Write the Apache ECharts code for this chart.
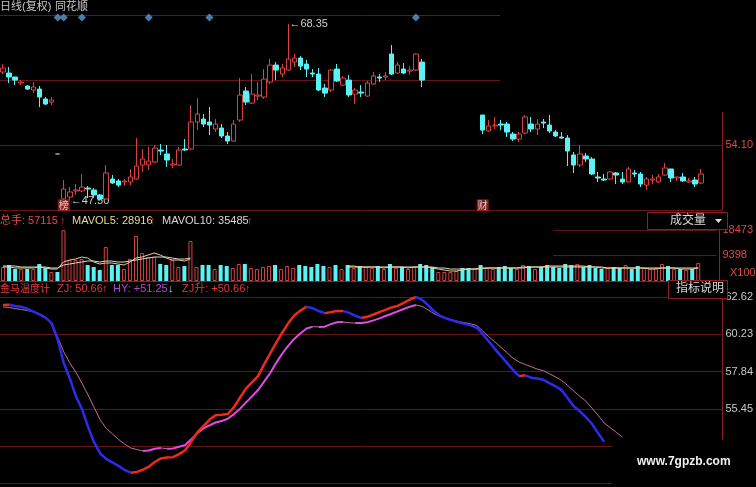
<!DOCTYPE html>
<html>
<head>
<meta charset="utf-8">
<title>金马温度计</title>
<script src="https://cdn.jsdelivr.net/npm/echarts@6/dist/echarts.min.js"></script>
<style>
html,body{margin:0;padding:0;background:#000;}
#chart{width:756px;height:487px;}
</style>
</head>
<body>
<div id="chart"></div>
<script>
// ================= DATA =================
const categoryCount = 119;
const categories = [];
for (let i = 0; i < categoryCount; i++) categories.push('D' + (i + 1));

// daily candles [open, close, low, high]; null = no candle drawn
const kline = [
 [62.70,63.17,62.46,63.64],[62.58,62.11,61.40,63.29],[62.11,61.75,61.16,62.15],[61.40,61.52,61.16,61.75],
 [61.05,60.69,60.58,61.16],[60.58,60.93,60.22,61.52],[60.69,59.75,58.57,61.05],[59.52,58.93,58.81,59.75],
 [59.16,59.40,58.81,59.75],[53.04,53.04,53.04,53.04],
 [47.74,48.91,47.62,49.97],[47.97,48.56,47.50,49.15],[48.68,48.80,48.21,49.50],[48.68,49.15,48.56,50.68],
 [49.03,48.91,47.85,49.27],[48.80,48.21,47.85,49.03],[48.21,47.74,47.55,48.32],[47.74,50.80,47.70,51.74],
 [50.09,49.62,49.50,50.56],[49.86,49.38,49.15,50.09],[49.74,49.86,49.27,50.09],[49.74,50.33,49.38,51.27],
 [50.09,51.62,50.00,54.92],[51.74,52.45,50.92,53.63],[51.74,52.21,51.15,53.86],[52.09,53.74,51.98,54.10],
 [53.51,53.39,52.92,54.21],[53.04,52.33,51.51,54.10],[51.74,51.86,51.39,52.45],[51.74,53.51,51.70,53.86],
 [53.63,53.51,53.39,54.80],[53.63,56.81,53.55,58.81],[56.81,57.75,55.86,59.63],[57.16,56.57,56.22,57.75],
 [56.81,56.45,55.27,58.57],[55.98,56.57,55.63,57.16],[56.10,55.16,54.92,56.57],[55.16,54.57,54.21,55.63],
 [54.57,56.57,54.50,57.04],[57.04,59.99,56.81,61.99],[60.46,59.16,58.81,60.93],[59.04,60.10,58.93,62.46],
 [59.87,59.99,59.40,61.52],[59.75,61.87,59.52,63.05],[61.52,63.52,61.28,64.23],[63.52,62.93,61.75,63.87],
 [62.46,63.17,62.11,63.64],[62.93,64.23,62.85,68.35],[63.87,64.35,63.29,64.82],[64.35,63.40,62.93,64.58],
 [63.64,63.05,62.11,64.11],[62.58,62.46,62.11,63.05],[62.46,60.58,60.46,63.17],[60.81,60.22,59.75,61.28],
 [60.58,62.93,60.34,63.05],[63.05,61.64,61.52,63.64],[61.16,61.99,61.05,62.23],[61.75,59.99,59.75,62.34],
 [60.10,60.58,58.93,60.81],[60.34,60.22,59.75,61.16],[59.87,61.40,59.75,61.64],[61.28,62.23,61.20,62.70],
 [62.11,61.99,61.52,62.46],[62.11,62.23,61.75,62.70],[64.82,62.46,62.34,65.88],[62.58,63.52,62.46,63.87],
 [63.05,62.58,62.46,63.76],[62.81,62.93,62.34,63.40],[62.93,64.82,62.85,64.93],[63.87,61.75,60.93,64.23],
 null,null,null,null,null,null,null,null,null,
 [57.63,55.86,55.39,57.65],[55.75,56.34,55.63,57.04],[56.34,56.45,55.98,57.40],[56.57,56.45,55.86,57.04],
 [56.57,55.63,55.04,56.81],[55.39,54.80,54.57,55.63],[54.80,55.39,54.45,55.63],[55.51,57.40,55.39,57.63],
 [56.57,55.98,55.63,57.40],[55.98,56.57,55.27,57.16],[56.81,56.69,56.10,57.16],[56.45,55.75,55.51,57.63],
 [55.63,55.16,55.04,55.86],[55.04,54.92,54.80,55.63],[54.92,53.39,51.62,55.27],[52.92,51.74,50.80,53.27],
 [51.74,53.04,51.51,54.10],[52.80,52.45,52.09,53.15],[52.45,50.68,50.56,52.68],[50.33,50.21,49.74,50.92],
 [50.09,49.97,49.86,50.68],[50.09,50.92,49.97,51.03],[50.80,50.56,49.50,50.92],[50.09,49.74,49.50,50.92],
 [49.74,51.27,49.70,51.51],[50.80,50.68,50.33,51.15],[50.68,49.50,49.15,50.92],[49.38,50.09,48.80,50.33],
 [49.97,50.09,49.50,50.56],[49.74,50.33,49.62,50.68],[50.56,51.39,50.50,51.98],[51.27,50.21,49.74,51.30],
 [50.21,50.33,49.86,50.35],[50.33,49.86,49.74,50.80],[49.74,49.86,49.62,50.21],[49.97,49.50,49.15,50.33],
 [49.62,50.68,49.50,51.27]
];
const flatCandleDay = 9;          // the grey "-" (no-trade) mark

// volume (x1000) and its direction (1 = up/red, -1 = down/cyan)
const volume = [
 5070,5790,4340,4340,4340,4340,6150,4710,3260,3260,
 18400,7600,7600,7960,5790,5070,3980,12300,5790,5790,
 4340,7960,16290,10140,8690,8690,6150,5790,7600,5070,
 5430,14480,5070,5790,5790,4340,5790,5430,4710,6150,
 6150,4710,4340,5070,5430,5790,4340,5430,4710,5790,
 5430,5070,6150,5430,5070,5790,4340,5790,4710,5430,
 5070,4710,5430,4340,6150,4710,5070,4340,5070,6150,
 5790,5070,3260,3260,3260,3620,4710,4710,4340,5790,
 4710,4340,5070,5430,4710,4340,5790,5430,4340,5070,
 5790,5070,4710,6150,5790,6150,5070,5790,4710,4340,
 4710,5070,4710,5790,4340,5430,4710,4340,4710,6150,
 5430,4340,4340,3980,4340,6500
];
const volumeDir = [
 1,-1,-1,1,-1,1,-1,-1,1,-1,
 1,1,1,1,-1,-1,-1,1,-1,-1,
 1,1,1,1,1,1,-1,-1,1,1,
 -1,1,1,-1,-1,1,-1,-1,1,1,
 -1,1,1,1,1,-1,1,1,1,-1,
 -1,-1,-1,-1,1,-1,1,-1,1,-1,
 1,1,-1,1,-1,1,-1,1,1,-1,
 -1,-1,1,1,1,1,-1,-1,1,-1,
 1,1,-1,-1,-1,1,1,-1,1,-1,
 -1,-1,-1,-1,-1,1,-1,-1,-1,-1,
 1,-1,-1,1,-1,-1,1,1,1,1,
 -1,1,-1,1,-1,1
];

// volume moving averages, visible only in two stretches
const mavol5LeftStart = 0;
const mavol5Left = [5070,5070,4710,4710,4710,4710,5070,4710,4340,4340,6880,7600,7960,8690,8330,6880,6150,6520,6520,6150,5790,6880,8330,8690,9410,10140,9410,8330,7600,7600,7240,7960];
const mavol5RightStart = 57;
const mavol5Right = [5430,5430,5070,5070,5070,5070,4710,5070,5070,5070,4710,5070,5070,5070,4710,4340,3980,3620,3620,3980,4340,4340,4710,4710,4710,4710,4710,4710,4710,5070,5070,5070,5070,5430,5430,5430,5430,5430,5430,5430,5070,5070,4710,4710,4710,4710,4710,4710,4710,4710,4340,4340,4710,4710,4710,4340,4340,4340,4710];
const mavol10LeftStart = 0;
const mavol10Left = [5430,5430,5430,5070,5070,5070,5070,5070,4710,4710,5790,6150,6520,6880,7240,7240,6880,7240,7240,6880,6880,7240,7600,7960,8330,8690,8690,8690,8330,7960,7960,8330];
const mavol10RightStart = 57;
const mavol10Right = [5070,5070,5070,5070,5070,5070,5070,5070,5070,5070,5070,5070,5070,5070,5070,4710,4710,4340,4340,4340,4340,4340,4340,4710,4710,4710,4710,4710,4710,4710,5070,5070,5070,5070,5070,5070,5070,5070,5070,5070,5070,5070,5070,4710,4710,4710,4710,4710,4710,4710,4710,4710,4710,4710,4710,4710,4710,4710,4710];

// 金马温度计 indicator lines
const zj = [
 62.10,62.12,62.05,62.00,61.85,61.68,61.50,61.30,60.95,59.90,
 58.40,57.40,56.25,55.45,54.30,53.30,52.60,52.25,52.02,51.80,
 51.55,51.36,51.40,51.55,51.75,52.05,52.28,52.33,52.36,52.55,
 52.80,53.35,53.95,54.35,54.75,55.05,55.08,55.12,55.55,56.15,
 56.75,57.15,57.55,58.30,59.00,59.70,60.35,60.95,61.45,61.75,
 62.00,61.90,61.72,61.58,61.65,61.72,61.73,61.60,61.42,61.28,
 61.35,61.50,61.65,61.80,61.95,62.05,62.25,62.45,62.62,62.45,
 62.10,61.70,61.40,61.25,61.12,61.00,60.90,60.80,60.65,60.25,
 59.78,59.30,58.85,58.40,57.95,57.55,57.60,57.45,57.40,57.32,
 57.10,56.90,56.65,56.15,55.62,55.30,54.92,54.50,53.90,53.35
];
const hy = [
 61.98,61.95,61.88,61.82,61.75,61.68,61.55,61.30,60.90,60.05,
 59.10,58.40,57.80,57.10,56.35,55.55,54.75,54.20,53.85,53.50,
 53.20,52.95,52.85,52.76,52.78,52.90,52.95,52.90,52.92,53.02,
 53.14,53.50,53.90,54.20,54.40,54.58,54.67,54.82,55.10,55.45,
 55.85,56.25,56.66,57.20,57.75,58.40,59.00,59.50,59.95,60.30,
 60.60,60.72,60.70,60.72,60.88,61.00,61.02,60.97,60.95,60.95,
 61.00,61.12,61.25,61.40,61.55,61.70,61.85,62.00,62.11,62.02,
 61.80,61.55,61.38,61.25,61.15,61.05,60.98,60.90,60.80,60.45,
 60.08,59.75,59.40,59.05,58.70,58.45,58.30,58.15,58.00,57.90,
 57.70,57.50,57.28,56.95,56.60,56.25,55.95,55.50,55.05,54.55,
 54.25,53.95,53.65
];

const signalDays = [9, 10, 13, 24, 34, 68];
const eventMarks = [{day: 10, text: '榜'}, {day: 79, text: '财'}];

const priceLabels = ['54.10'];
const volumeLabels = [9398, 18473];
const volumeUnit = 'X1000';

// ================= BUILD =================
const RED = '#d84242';
const CYAN = '#5af2f2';
const GRID = '#641616';
const AXIS = '#8c2020';

const priceMin = 46.44, priceInterval = 7.66, priceMax = 69.42;

function place(parts) {
  const a = new Array(categoryCount).fill(null);
  parts.forEach(p => p.seg.forEach((v, k) => { a[p.start + k] = v; }));
  return a;
}

const candleData = kline.map((k, i) => {
  if (!k) return ['-', '-', '-', '-'];
  if (i === flatCandleDay) return {value: k, itemStyle: {color: '#aaa', color0: '#aaa', borderColor: '#aaa', borderColor0: '#aaa'}};
  return k;
});

let hiIdx = 0, loIdx = 0;
kline.forEach((k, i) => {
  if (!k) return;
  if (k[3] > kline[hiIdx][3]) hiIdx = i;
  if (k[2] < kline[loIdx][2]) loIdx = i;
});

const volData = volume.map((v, i) => ({
  value: v,
  itemStyle: volumeDir[i] > 0 ? {color: '#000', borderColor: RED, borderWidth: 1} : {color: CYAN, borderWidth: 0}
}));

function runSeries(vals, upStyle, dnStyle, z) {
  const runs = []; let cur = null;
  for (let k = 1; k < vals.length; k++) {
    const dir = vals[k] >= vals[k - 1] ? 'up' : 'dn';
    if (!cur || cur.dir !== dir) { cur = {dir: dir, from: k - 1, to: k}; runs.push(cur); }
    else cur.to = k;
  }
  return runs.map(r => {
    const d = new Array(categoryCount).fill(null);
    for (let k = r.from; k <= r.to; k++) d[k] = vals[k];
    const st = r.dir === 'up' ? upStyle : dnStyle;
    return {type: 'line', xAxisIndex: 2, yAxisIndex: 2, data: d, symbol: 'none', showSymbol: false,
      connectNulls: false, silent: true, z: z,
      lineStyle: {color: st.color, width: st.width}, itemStyle: {color: st.color}};
  });
}

const FONT = '"Liberation Sans", "Noto Sans CJK SC", sans-serif';
function txt(x, y, text, fill, size, weight) {
  return {type: 'text', x: x, y: y, z: 120, silent: true,
    style: {text: text, fill: fill, font: (weight || '') + ' ' + (size || 11) + 'px ' + FONT,
      verticalAlign: 'middle', textVerticalAlign: 'middle'}};
}

const option = {
  backgroundColor: '#000',
  animation: false,
  textStyle: {fontFamily: FONT},
  grid: [
    {left: 0, right: 28, top: 15, height: 195},
    {left: 0, right: 28, top: 230, height: 51},
    {left: 0, right: 28, top: 297, height: 186.5}
  ],
  xAxis: [0, 1, 2].map(g => ({
    type: 'category', gridIndex: g, data: categories, boundaryGap: true,
    axisLine: {show: g === 1, onZero: false, lineStyle: {color: AXIS}},
    axisTick: {show: false}, axisLabel: {show: false}, splitLine: {show: false}
  })),
  yAxis: [
    {type: 'value', gridIndex: 0, position: 'right', min: priceMin, max: priceMax, interval: priceInterval,
      axisLine: {show: true, lineStyle: {color: AXIS}}, axisTick: {show: false},
      splitLine: {show: true, lineStyle: {color: GRID, width: 1}},
      axisLabel: {color: '#e04848', fontSize: 11, margin: 3,
        formatter: v => { const s = v.toFixed(2); return priceLabels.indexOf(s) >= 0 ? s : ''; }}},
    {type: 'value', gridIndex: 1, position: 'right', min: 0, max: 18473,
      axisLine: {show: true, lineStyle: {color: AXIS}}, axisTick: {show: false}, splitLine: {show: false},
      axisLabel: {color: '#e04848', fontSize: 11, margin: 3, customValues: volumeLabels,
        formatter: v => String(Math.round(v))}},
    {type: 'value', gridIndex: 2, position: 'right', min: 50.67, max: 62.62, interval: 2.39,
      axisLine: {show: true, lineStyle: {color: AXIS}}, axisTick: {show: false},
      splitLine: {show: true, lineStyle: {color: GRID, width: 1}},
      axisLabel: {color: '#c8c8c8', fontSize: 11, margin: 3, formatter: v => v > 55 ? v.toFixed(2) : ''}}
  ],
  series: [
    {type: 'candlestick', xAxisIndex: 0, yAxisIndex: 0, data: candleData, barWidth: 5, z: 5,
      itemStyle: {color: '#000', color0: CYAN, borderColor: RED, borderColor0: CYAN, borderWidth: 1},
      markPoint: {symbol: 'circle', symbolSize: 0, silent: true,
        label: {show: true, position: 'right', distance: 1, color: '#cfcfcf', fontSize: 11,
          formatter: p => '\u2190' + Number(p.value).toFixed(2)},
        data: [
          {coord: [hiIdx, kline[hiIdx][3]], value: kline[hiIdx][3]},
          {coord: [loIdx, kline[loIdx][2]], value: kline[loIdx][2]}
        ]}},
    {type: 'scatter', xAxisIndex: 0, yAxisIndex: 0, symbol: 'diamond', symbolSize: 8, silent: true, z: 6,
      itemStyle: {color: '#5a9bd6'},
      data: signalDays.map(d => [d, priceMax - 0.3])},
    {type: 'scatter', xAxisIndex: 0, yAxisIndex: 0, symbol: 'rect', symbolSize: [12, 12], silent: true, z: 6,
      itemStyle: {color: '#a82626'},
      label: {show: true, position: 'inside', formatter: '{b}', color: '#f2f2f2', fontSize: 10,
        fontFamily: '"Noto Sans CJK SC", sans-serif'},
      data: eventMarks.map(e => ({name: e.text, value: [e.day, priceMin + 0.55]}))},
    {type: 'bar', xAxisIndex: 1, yAxisIndex: 1, data: volData, barWidth: 4, z: 3,
      markLine: {silent: true, symbol: ['none', 'none'], label: {show: false},
        lineStyle: {color: GRID, type: 'solid', width: 1},
        data: volumeLabels.map(v => [{coord: [91, v]}, {coord: [118, v]}])}},
    {type: 'line', xAxisIndex: 1, yAxisIndex: 1, symbol: 'none', connectNulls: false, silent: true, z: 4,
      lineStyle: {color: '#d8d8d8', width: 1},
      data: place([{seg: mavol10Left, start: mavol10LeftStart}, {seg: mavol10Right, start: mavol10RightStart}])},
    {type: 'line', xAxisIndex: 1, yAxisIndex: 1, symbol: 'none', connectNulls: false, silent: true, z: 4,
      lineStyle: {color: '#e6d48a', width: 1},
      data: place([{seg: mavol5Left, start: mavol5LeftStart}, {seg: mavol5Right, start: mavol5RightStart}])}
  ]
  .concat(runSeries(hy, {color: '#e24ce6', width: 2}, {color: '#c07094', width: 1}, 7))
  .concat(runSeries(zj, {color: '#f02a1a', width: 2.5}, {color: '#2c2cea', width: 2.5}, 8)),
  graphic: [
    // blank areas of the screenshot
    {type: 'rect', z: 100, silent: true, shape: {x: 500, y: 0, width: 256, height: 112}, style: {fill: '#000'}},
    {type: 'rect', z: 100, silent: true, shape: {x: 612, y: 440, width: 144, height: 47}, style: {fill: '#000'}},
    // header boxes
    {type: 'rect', z: 110, silent: true, shape: {x: 647.5, y: 212.5, width: 80, height: 17},
      style: {fill: '#000', stroke: AXIS, lineWidth: 1}},
    {type: 'rect', z: 110, silent: true, shape: {x: 668.5, y: 280.5, width: 59, height: 18},
      style: {fill: '#000', stroke: AXIS, lineWidth: 1}},
    txt(670, 221, '成交量', '#d8d8d8', 12),
    {type: 'polygon', z: 120, silent: true, shape: {points: [[715, 219], [722, 219], [718.5, 223]]}, style: {fill: '#e0e0e0'}},
    txt(676, 289, '指标说明', '#d8d8d8', 12),
    // title line
    txt(0, 7, '日线(复权)', '#c8c8c8', 11),
    txt(55, 7, '同花顺', '#c8c8c8', 11),
    // volume header
    txt(0, 221, '总手: 57115', '#e04848', 11),
    txt(60, 221, '\u2191', '#e03030', 11),
    txt(72, 221, 'MAVOL5: 28916', '#e6dc9a', 11),
    txt(150, 221, '\u2191', '#e03030', 11),
    txt(162, 221, 'MAVOL10: 35485', '#d8d8d8', 11),
    txt(247, 221, '\u2191', '#e03030', 11),
    txt(730, 273, volumeUnit, '#e04848', 11),
    // indicator header
    txt(0, 289, '金马温度计', '#e03a3a', 10),
    txt(57, 289, 'ZJ: 50.66', '#e03a3a', 11),
    txt(102, 289, '\u2191', '#e03a3a', 11),
    txt(113, 289, 'HY: +51.25', '#b048d0', 11),
    txt(168, 289, '\u2193', '#70e8f0', 11),
    txt(182, 289, 'ZJ升: +50.66', '#e03a3a', 11),
    txt(245, 289, '\u2191', '#e03a3a', 11),
    // watermark
    txt(637, 462, 'www.7gpzb.com', '#f0f0f0', 12, 'bold')
  ]
};

const chart = echarts.init(document.getElementById('chart'), null, {renderer: 'canvas'});
chart.setOption(option);
</script>
</body>
</html>
